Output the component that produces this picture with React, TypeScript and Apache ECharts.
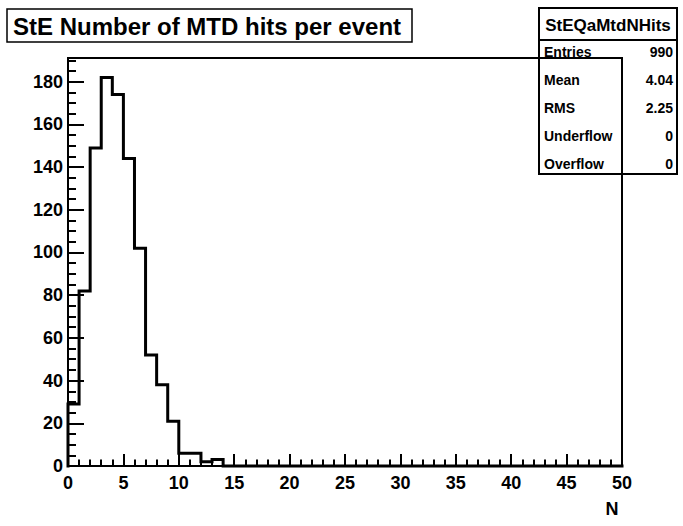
import React, { useEffect, useRef } from "react";
import * as echarts from "echarts";

const titleText = "StE Number of MTD hits per event";
const statsTitle = "StEQaMtdNHits";
const statsLabels = ["Entries", "Mean", "RMS", "Underflow", "Overflow"];
const statsValues = ["990", "4.04", "2.25", "0", "0"];
const xAxisTitle = "N";

// histogram: 50 bins of width 1 from 0 to 50
const binLow = 0;
const binHigh = 50;
const binCounts = [
  29, 82, 149, 182, 174, 144, 102, 52, 38, 21,
  6, 6, 2, 3, 0, 0, 0, 0, 0, 0,
  0, 0, 0, 0, 0, 0, 0, 0, 0, 0,
  0, 0, 0, 0, 0, 0, 0, 0, 0, 0,
  0, 0, 0, 0, 0, 0, 0, 0, 0, 0,
];
const yMax = 191.1;

const FONT = "'Liberation Sans', Arial, Helvetica, sans-serif";

export default function App() {
  const ref = useRef<HTMLDivElement>(null);
  useEffect(() => {
    if (!ref.current) return;
    const chart = echarts.init(ref.current, null, { renderer: "svg" });

    const stepData: number[][] = [[binLow, 0]];
    binCounts.forEach((c, i) => stepData.push([binLow + i, c]));
    stepData.push([binHigh, binCounts[binCounts.length - 1]]);

    const gridL = 68, gridT = 58, gridR = 61, gridB = 60;

    const statsLeft = 539, statsTop = 8, statsW = 138, statsH = 166;
    const rowY = [52, 80, 108, 136, 164];

    const graphics: any[] = [
      {
        type: "rect",
        z: -5,
        shape: { x: 7, y: 9, width: 405, height: 33 },
        style: { fill: "#fff", stroke: "#000", lineWidth: 1.5 },
      },
      {
        type: "text",
        z: -4,
        x: 13,
        y: 26,
        style: {
          text: titleText,
          font: `bold 24px ${FONT}`,
          fill: "#000",
          textAlign: "left",
          textVerticalAlign: "middle",
        },
      },
      {
        type: "rect",
        z: -5,
        shape: { x: statsLeft, y: statsTop, width: statsW, height: statsH },
        style: { fill: "#fff", stroke: "#000", lineWidth: 2 },
      },
      {
        type: "line",
        z: -4,
        shape: { x1: statsLeft, y1: 40, x2: statsLeft + statsW, y2: 40 },
        style: { stroke: "#000", lineWidth: 2 },
      },
      {
        type: "text",
        z: -4,
        x: statsLeft + statsW / 2,
        y: 25,
        style: {
          text: statsTitle,
          font: `bold 17px ${FONT}`,
          fill: "#000",
          textAlign: "center",
          textVerticalAlign: "middle",
        },
      },
      {
        type: "text",
        x: 612,
        y: 509,
        style: {
          text: xAxisTitle,
          font: `bold 18px ${FONT}`,
          fill: "#000",
          textAlign: "center",
          textVerticalAlign: "middle",
        },
      },
    ];
    statsLabels.forEach((lab, i) => {
      graphics.push({
        type: "text",
        z: -4,
        x: 544,
        y: rowY[i],
        style: {
          text: lab,
          font: `bold 14px ${FONT}`,
          fill: "#000",
          textAlign: "left",
          textVerticalAlign: "middle",
        },
      });
      graphics.push({
        type: "text",
        z: -4,
        x: 673,
        y: rowY[i],
        style: {
          text: statsValues[i],
          font: `bold 14px ${FONT}`,
          fill: "#000",
          textAlign: "right",
          textVerticalAlign: "middle",
        },
      });
    });

    const labelStyle = {
      color: "#000",
      fontFamily: FONT,
      fontWeight: "bold" as const,
      fontSize: 18,
    };

    chart.setOption({
      animation: false,
      backgroundColor: "#fff",
      grid: {
        left: gridL,
        top: gridT,
        right: gridR,
        bottom: gridB,
        show: true,
        borderColor: "#000",
        borderWidth: 2,
        backgroundColor: "transparent",
        z: 1,
      },
      xAxis: [
        {
          type: "value",
          min: binLow,
          max: binHigh,
          interval: 5,
          position: "bottom",
          axisLine: { show: true, lineStyle: { color: "#000", width: 2 } },
          axisTick: { show: true, inside: true, length: 12, lineStyle: { color: "#000", width: 2 } },
          axisLabel: { show: true, margin: 8, ...labelStyle },
          splitLine: { show: false },
        },
        {
          type: "value",
          min: binLow,
          max: binHigh,
          interval: 1,
          position: "bottom",
          axisLine: { show: false },
          axisTick: { show: true, inside: true, length: 6.5, lineStyle: { color: "#000", width: 2 } },
          axisLabel: { show: false },
          splitLine: { show: false },
        },
      ],
      yAxis: [
        {
          type: "value",
          min: 0,
          max: yMax,
          interval: 20,
          position: "left",
          axisLine: { show: true, lineStyle: { color: "#000", width: 2 } },
          axisTick: { show: true, inside: true, length: 16, lineStyle: { color: "#000", width: 2 } },
          axisLabel: { show: true, margin: 5, showMaxLabel: false, ...labelStyle },
          splitLine: { show: false },
        },
        {
          type: "value",
          min: 0,
          max: yMax,
          interval: 5,
          position: "left",
          axisLine: { show: false },
          axisTick: { show: true, inside: true, length: 8, lineStyle: { color: "#000", width: 2 } },
          axisLabel: { show: false },
          splitLine: { show: false },
        },
      ],
      graphic: graphics,
      series: [
        {
          type: "line",
          xAxisIndex: 0,
          yAxisIndex: 0,
          step: "end",
          data: stepData,
          symbol: "none",
          clip: false,
          lineStyle: { color: "#000", width: 3, join: "miter", cap: "square" },
          z: 3,
        },
      ],
    });
    return () => chart.dispose();
  }, []);

  return (
    <div
      ref={ref}
      style={{ position: "fixed", left: 0, top: 0, width: 683, height: 526 }}
    />
  );
}
